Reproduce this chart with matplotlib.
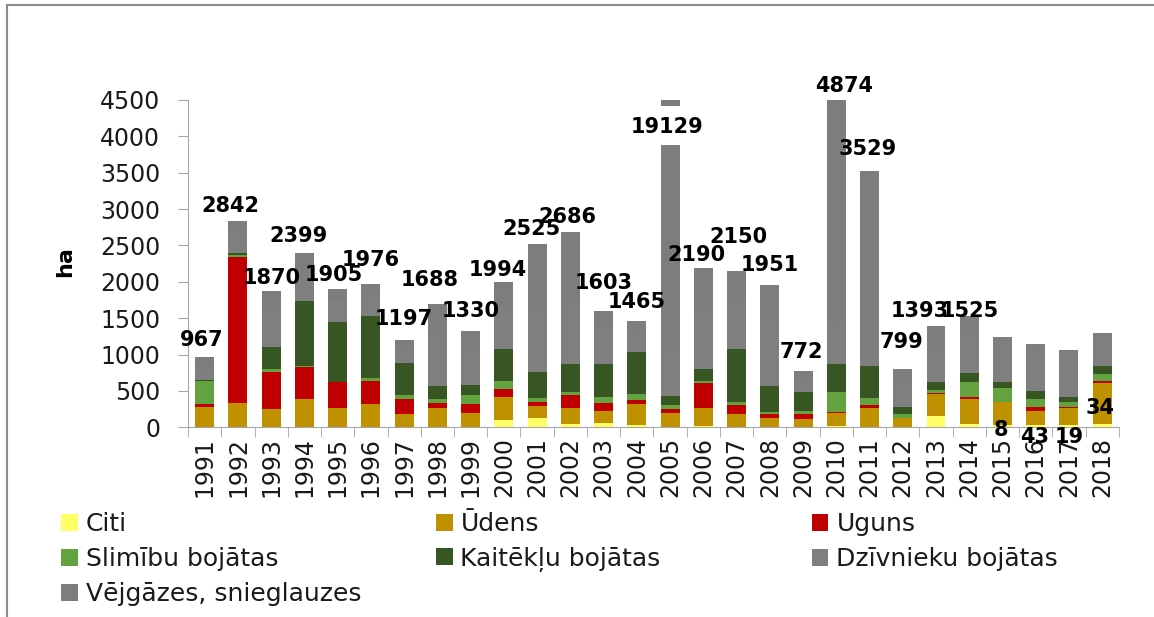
import matplotlib.pyplot as plt
from matplotlib.lines import Line2D
from matplotlib.patches import Patch
import numpy as np

years = [str(y) for y in range(1991, 2019)]

# ha by cause
citi = [0, 0, 0, 0, 0, 0, 0, 0, 0, 101, 124, 41, 60, 32, 0, 18, 0, 0, 0, 18, 0, 0, 160, 41, 32, 32, 32, 41]
udens = [284, 339, 248, 385, 261, 316, 179, 266, 197, 321, 174, 220, 169, 284, 197, 243, 179, 124, 110, 184, 270, 124, 298, 353, 321, 197, 238, 564]
uguns = [37, 2008, 518, 449, 358, 321, 211, 73, 124, 105, 55, 184, 110, 60, 55, 344, 124, 59, 73, 13, 37, 0, 19, 19, 0, 55, 14, 32]
slimibu = [321, 23, 32, 14, 0, 37, 55, 51, 119, 106, 55, 46, 83, 82, 55, 32, 45, 23, 46, 276, 101, 55, 36, 206, 193, 106, 69, 92]
kaiteklu = [10, 28, 312, 885, 830, 857, 435, 179, 142, 444, 349, 376, 445, 583, 119, 161, 729, 363, 262, 376, 440, 105, 106, 124, 73, 105, 60, 119]
dzivnieku = [120, 300, 500, 450, 300, 300, 200, 700, 500, 600, 900, 900, 500, 300, 700, 800, 700, 900, 200, 600, 150, 400, 500, 550, 611, 608, 632, 411]
vejgazes = [195, 144, 260, 216, 156, 145, 117, 419, 248, 317, 868, 919, 236, 124, 18003, 592, 373, 482, 81, 3407, 2531, 115, 274, 232, 8, 43, 19, 34]

# data labels as shown on the chart
labels = ['967', '2842', '1870', '2399', '1905', '1976', '1197', '1688', '1330', '1994',
          '2525', '2686', '1603', '1465', '19129', '2190', '2150', '1951', '772', '4874',
          '3529', '799', '1393', '1525', '8', '43', '19', '34']
# label placement (x shift in bar units, y in ha)
lab_dx = [-0.1, -0.24, 0, -0.17, -0.12, 0, 0, -0.24, 0, -0.18, -0.18, -0.1, 0, 0,
          -0.1, -0.2, 0.06, 0, -0.05, 0.24, -0.06, -0.04, -0.5, 0.03, -0.04, -0.04, 0, -0.06]
lab_y = [1201, 3036, 2059, 2632, 2096, 2293, 1486, 2027, 1594, 2164, 2725, 2885, 1990, 1729,
         4128, 2362, 2614, 2233, 1041, 4697, 3825, 1178, 1605, 1605, -41, -127, -127, 261]

series = [
    ('Citi', citi, '#FFFF66'),
    ('Ūdens', udens, '#BF9000'),
    ('Uguns', uguns, '#C00000'),
    ('Slimību bojātas', slimibu, '#63A33F'),
    ('Kaitēkļu bojātas', kaiteklu, '#375623'),
    ('Dzīvnieku bojātas', dzivnieku, '#7F7F7F'),
    ('Vējgāzes, snieglauzes', vejgazes, '#7D7D7D'),
]

fig = plt.figure(figsize=(11.54, 6.17), dpi=100)
ax = fig.add_axes([0.163, 0.3075, 0.8065, 0.5305])

x = np.arange(len(years))
bw = 0.57
bottom = np.zeros(len(years))
for name, vals, col in series:
    ax.bar(x, vals, bw, bottom=bottom, color=col, linewidth=0, label=name)
    bottom += np.array(vals)

# break on the 2005 bar
i05 = years.index('2005')
ax.bar(i05, 4420 - 3885, bw + 0.1, bottom=3885, color='white', linewidth=0, zorder=3)

for i, t in enumerate(labels):
    ax.text(x[i] + lab_dx[i], lab_y[i], t, ha='center', va='center',
            fontsize=15, fontweight='bold', color='black', zorder=5)

ax.set_xlim(-0.5, len(years) - 0.5)
ax.set_ylim(0, 4500)
ax.set_yticks(range(0, 4501, 500))
ax.set_xticks(x)
ax.set_xticklabels(years, rotation=90)
ax.set_xticks(np.arange(-0.5, len(years), 1), minor=True)
ax.tick_params(axis='x', which='major', length=0, pad=7, labelsize=17, labelcolor='#1a1a1a')
ax.tick_params(axis='x', which='minor', length=7, color='#A6A6A6')
ax.tick_params(axis='y', length=7, color='#A6A6A6', labelsize=17, labelcolor='#1a1a1a', pad=13)
for s in ['top', 'right']:
    ax.spines[s].set_visible(False)
for s in ['left', 'bottom']:
    ax.spines[s].set_color('#A6A6A6')

fig.text(65 / 1154, 1 - 262 / 617, 'ha', rotation=90, ha='center', va='center',
         fontsize=16, fontweight='bold')

# legend: row-wise grid, one entry at a time so rows line up
col_x = [61, 436, 812]
row_y = [524, 559, 594]
for k, (name, vals, col) in enumerate(series):
    r, c = divmod(k, 3)
    fig.legend([Patch(facecolor=col, edgecolor='none')], [name], loc='center left',
               bbox_to_anchor=(col_x[c] / 1154, 1 - row_y[r] / 617),
               frameon=False, fontsize=18, handlelength=0.66, handleheight=0.66,
               handletextpad=0.32, borderpad=0, borderaxespad=0, labelcolor='#1a1a1a')

# outer frame lines
fig.add_artist(Line2D([7 / 1154, 1], [1 - 5 / 617, 1 - 5 / 617], color='#8C8C8C', lw=1.5))
fig.add_artist(Line2D([7 / 1154, 7 / 1154], [0, 1 - 5 / 617], color='#8C8C8C', lw=1.5))

plt.savefig('out.png', dpi=100)
